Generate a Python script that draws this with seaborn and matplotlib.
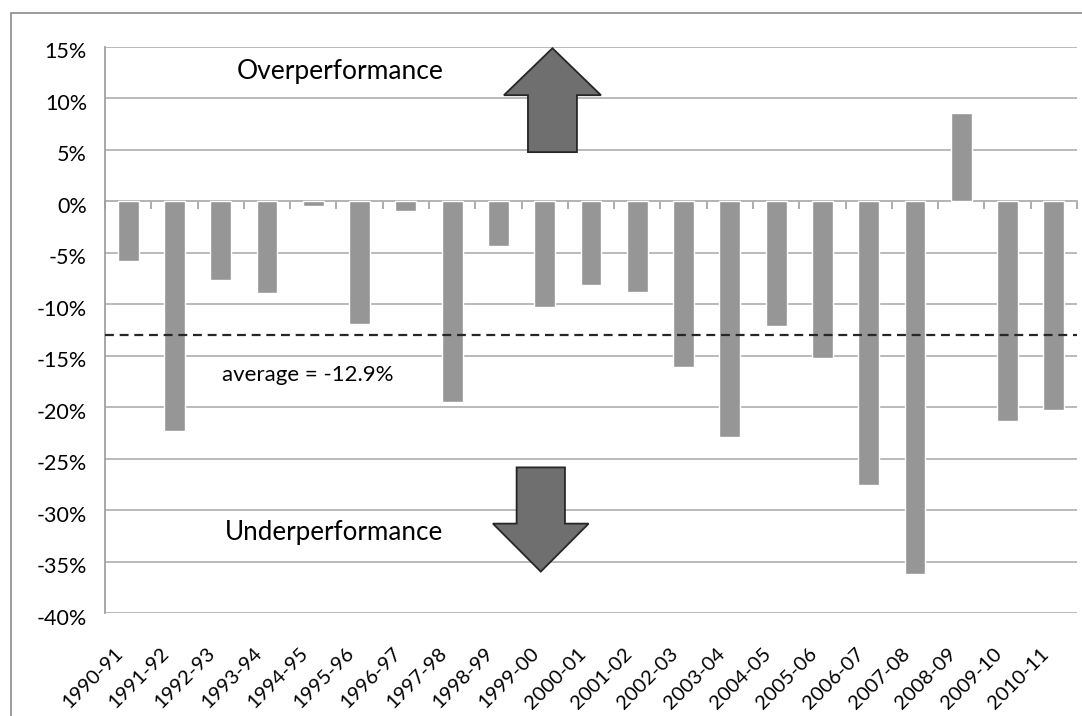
import numpy as np
import pandas as pd
import matplotlib
matplotlib.use("Agg")
import matplotlib.pyplot as plt
import matplotlib.patches as mpatches
import matplotlib.transforms as mtransforms
import seaborn as sns

# Relative performance per season (%)
periods = ["1990-91", "1991-92", "1992-93", "1993-94", "1994-95", "1995-96",
           "1996-97", "1997-98", "1998-99", "1999-00", "2000-01", "2001-02",
           "2002-03", "2003-04", "2004-05", "2005-06", "2006-07", "2007-08",
           "2008-09", "2009-10", "2010-11"]
performance = [-5.8, -22.3, -7.6, -8.9, -0.4, -11.9,
               -0.9, -19.5, -4.3, -10.3, -8.1, -8.8,
               -16.1, -22.9, -12.1, -15.2, -27.5, -36.2,
               8.6, -21.3, -20.3]
y_ticks = list(range(-40, 20, 5))

average = float(np.mean(performance))

sns.set_style("white")
plt.rcParams["font.family"] = ["Lato", "DejaVu Sans"]

DPI = 100
fig = plt.figure(figsize=(10.82, 7.16), dpi=DPI)
ax = fig.add_axes([105 / 1082, 1 - 613.3 / 716, 972 / 1082, 566.3 / 716])

df = pd.DataFrame({"period": periods, "performance": performance})
sns.barplot(data=df, x="period", y="performance", color="#969696",
            saturation=1, width=0.45, ax=ax, zorder=3)

ax.set_xlim(-0.5, len(periods) - 0.5)
ax.set_ylim(-40, 15)
ax.set_yticks(y_ticks)
ax.set_yticklabels([f"{v}%" for v in y_ticks], fontsize=15.5, color="black")
ax.set_xlabel("")
ax.set_ylabel("")

# horizontal gridlines
ax.yaxis.grid(True, color="#b4b4b4", linewidth=1.3, zorder=0)
ax.xaxis.grid(False)
ax.set_axisbelow(True)

for side in ["top", "right", "bottom"]:
    ax.spines[side].set_visible(False)
ax.spines["left"].set_color("#a0a0a0")
ax.spines["left"].set_linewidth(1.3)
ax.tick_params(axis="y", direction="out", length=5, width=1.2,
               color="#a0a0a0", pad=8)

# rotated category labels below the plot area
ax.set_xticks(range(len(periods)))
ax.set_xticklabels(periods, rotation=45, ha="right", va="center",
                   rotation_mode="anchor", fontsize=14.5, color="black")
ax.tick_params(axis="x", length=0, pad=27)
shift = mtransforms.ScaledTranslation(-8 / DPI, 0, fig.dpi_scale_trans)
for lbl in ax.get_xticklabels():
    lbl.set_transform(lbl.get_transform() + shift)
yshift = mtransforms.ScaledTranslation(0, -3.5 / DPI, fig.dpi_scale_trans)
for lbl in ax.get_yticklabels():
    lbl.set_transform(lbl.get_transform() + yshift)

# category axis crossing at zero with tick marks between categories
sec = ax.secondary_xaxis(40 / 55)
sec.set_alignment("bottom")
sec.set_xticks(np.arange(-0.5, len(periods), 1.0))
sec.set_xticklabels([])
sec.tick_params(axis="x", direction="out", length=5.5, width=1.2,
                color="#a0a0a0")
sec.spines["bottom"].set_color("#b4b4b4")
sec.spines["bottom"].set_linewidth(1.3)

# average line and label
ax.axhline(average, color="#262626", linewidth=1.6, linestyle=(0, (4, 2.6)),
           zorder=4)
ax.text(3.885, -16.9, f"average = {average:.1f}%", fontsize=16,
        ha="center", va="center", color="black", zorder=5)

# direction annotations
ax.text(4.58, 12.6, "Overperformance", fontsize=19, ha="center",
        va="center", color="black", zorder=5)
ax.text(4.447, -32.2, "Underperformance", fontsize=18.7, ha="center",
        va="center", color="black", zorder=5)


def block_arrow(cx, tail, base, tip, head_half, shaft_half):
    pts = [(cx - shaft_half, tail), (cx - shaft_half, base),
           (cx - head_half, base), (cx, tip), (cx + head_half, base),
           (cx + shaft_half, base), (cx + shaft_half, tail)]
    return mpatches.Polygon(pts, closed=True, facecolor="#6f6f6f",
                            edgecolor="#262626", linewidth=1.3, zorder=6,
                            clip_on=False)


ax.add_patch(block_arrow(9.167, 4.79, 10.32, 14.88, 1.048, 0.529))
ax.add_patch(block_arrow(8.915, -25.83, -31.29, -35.95, 1.034, 0.522))

# chart area border
fig.patches.append(mpatches.Rectangle(
    (10.5 / 1082, -0.1), 1.2, 1.1 - 13.3 / 716, transform=fig.transFigure,
    fill=False, edgecolor="#8a8a8a", linewidth=1.2))

fig.savefig("out.png", dpi=DPI)
